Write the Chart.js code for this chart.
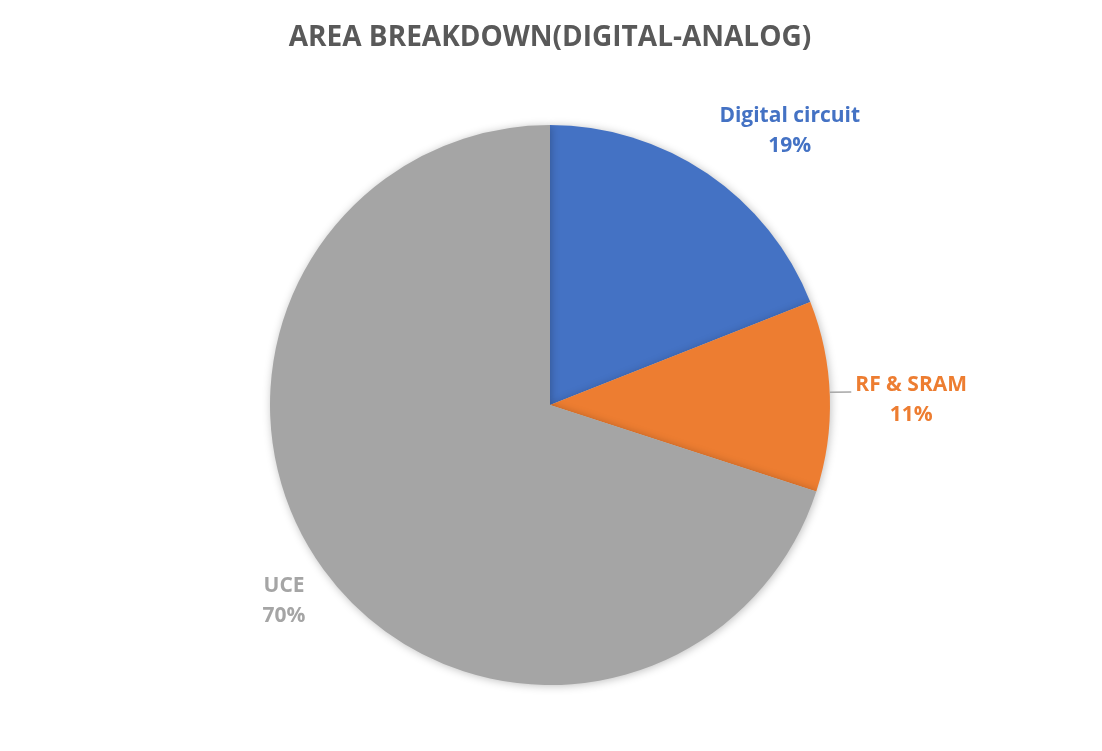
<!DOCTYPE html>
<html>
<head>
<meta charset="utf-8">
<script src="https://cdn.jsdelivr.net/npm/chart.js@4/dist/chart.umd.min.js"></script>
<style>
  html, body { margin: 0; padding: 0; background: #fff; }
  #wrap { width: 1102px; height: 751px; }
</style>
</head>
<body>
<div id="wrap"><canvas id="myChart"></canvas></div>
<script>
// data
var categories = ["Digital circuit", "RF & SRAM", "UCE"];
var areaShare = [19, 11, 70];
var sliceColors = ["#4472C4", "#ED7D31", "#A5A5A5"];

// label placement: angle offset from slice middle (deg), distance as share of radius
var labelPlace = [
  { shift: 7, dist: 1.30, leader: false },
  { shift: 1, dist: 1.29, leader: true },
  { shift: -0.4, dist: 1.18, leader: false }
];

var sliceLabels = {
  id: 'sliceLabels',
  afterDatasetsDraw(chart) {
    var ctx = chart.ctx;
    var meta = chart.getDatasetMeta(0);
    var total = areaShare.reduce(function (a, b) { return a + b; }, 0);
    ctx.save();
    ctx.font = 'bold 21px "Open Sans", sans-serif';
    ctx.textAlign = 'center';
    ctx.textBaseline = 'middle';
    meta.data.forEach(function (arc, i) {
      var p = arc.getProps(['x', 'y', 'startAngle', 'endAngle', 'outerRadius'], true);
      var mid = (p.startAngle + p.endAngle) / 2;
      var ang = mid + labelPlace[i].shift * Math.PI / 180;
      var r = p.outerRadius * labelPlace[i].dist;
      var lx = p.x + Math.cos(ang) * r;
      var ly = p.y + Math.sin(ang) * r;
      var pct = Math.round(areaShare[i] / total * 100) + '%';
      if (labelPlace[i].leader) {
        var w = ctx.measureText(categories[i]).width;
        ctx.strokeStyle = '#A6A6A6';
        ctx.lineWidth = 1.5;
        ctx.beginPath();
        ctx.moveTo(p.x + Math.cos(mid) * p.outerRadius, p.y + Math.sin(mid) * p.outerRadius - 4);
        ctx.lineTo(lx - w / 2 - 4, ly - 8);
        ctx.stroke();
      }
      ctx.fillStyle = sliceColors[i];
      ctx.fillText(categories[i], lx, ly - 15);
      ctx.fillText(pct, lx, ly + 15);
    });
    ctx.restore();
  }
};

var pieShadow = {
  id: 'pieShadow',
  beforeDatasetsDraw(chart) {
    var ctx = chart.ctx;
    ctx.save();
    ctx.shadowColor = 'rgba(0,0,0,0.25)';
    ctx.shadowBlur = 8;
    ctx.shadowOffsetX = 1;
    ctx.shadowOffsetY = 1;
  },
  afterDatasetsDraw(chart) {
    chart.ctx.restore();
  }
};

new Chart("myChart", {
  type: "pie",
  data: {
    labels: categories,
    datasets: [{
      data: areaShare,
      backgroundColor: sliceColors,
      borderWidth: 0
    }]
  },
  options: {
    responsive: true,
    maintainAspectRatio: false,
    animation: false,
    layout: { padding: { top: 0, bottom: 66, left: 0, right: 2 } },
    plugins: {
      legend: { display: false },
      tooltip: { enabled: false },
      title: {
        display: true,
        text: "AREA BREAKDOWN(DIGITAL-ANALOG)",
        color: "#595959",
        font: { family: '"Open Sans", sans-serif', size: 28, weight: 'bold' },
        padding: { top: 21, bottom: 70.4 }
      }
    }
  },
  plugins: [pieShadow, sliceLabels]
});
</script>
</body>
</html>
